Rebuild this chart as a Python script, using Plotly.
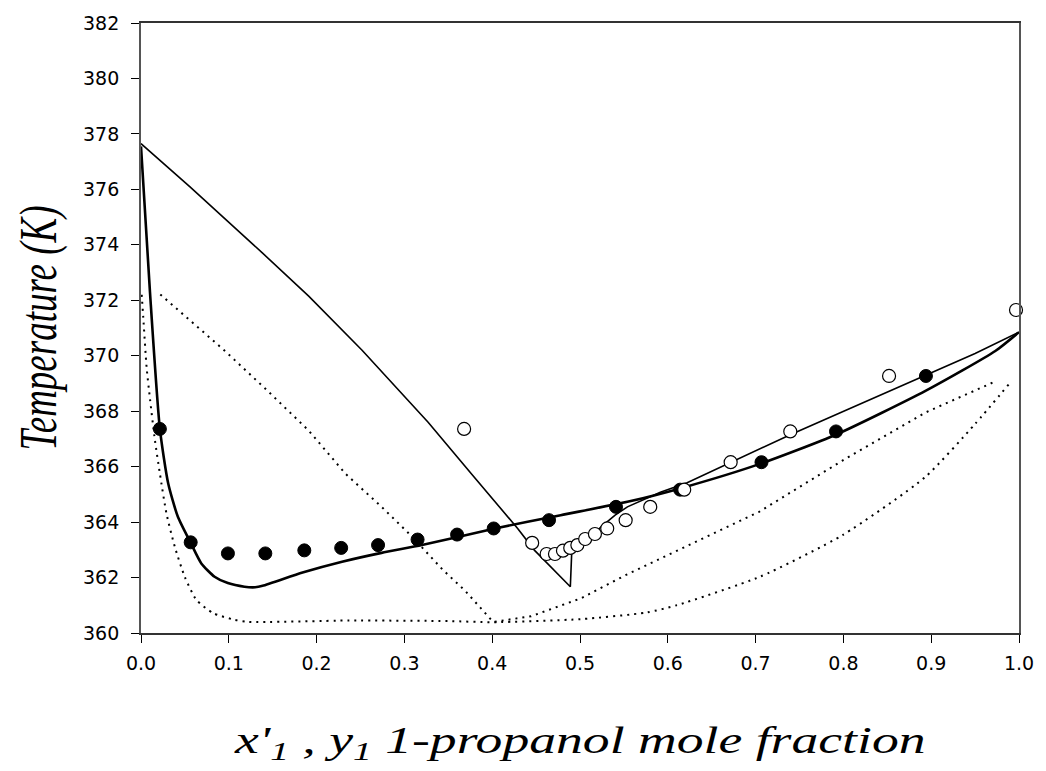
import plotly.graph_objects as go

# Experimental liquid-phase points (x'1, T)
liq_x = [0.0215, 0.0566, 0.099, 0.1416, 0.186, 0.228, 0.270, 0.315, 0.360,
         0.4017, 0.4647, 0.541, 0.614, 0.7067, 0.7916, 0.894]
liq_T = [367.36, 363.27, 362.87, 362.87, 362.98, 363.07, 363.17, 363.37, 363.55,
         363.77, 364.07, 364.55, 365.17, 366.16, 367.27, 369.27]

# Experimental vapour-phase points (y1, T)
vap_x = [0.368, 0.4455, 0.462, 0.4715, 0.4806, 0.4889, 0.497, 0.5059, 0.517,
         0.531, 0.552, 0.580, 0.6187, 0.6716, 0.7395, 0.852, 0.9966]
vap_T = [367.36, 363.25, 362.85, 362.85, 362.97, 363.07, 363.17, 363.39, 363.57,
         363.77, 364.07, 364.55, 365.17, 366.16, 367.27, 369.27, 371.65]

# Correlated liquid curve (thick)
fit_liq_x = [0.000, 0.0102, 0.0215, 0.031, 0.042, 0.0566, 0.0687, 0.0838, 0.0989,
             0.1178, 0.130, 0.1385, 0.184, 0.229, 0.274, 0.320, 0.403, 0.478,
             0.554, 0.619, 0.705, 0.792, 0.894, 0.973, 1.000]
fit_liq_T = [377.55, 372.30, 367.36, 365.39, 364.19, 363.25, 362.51, 362.03, 361.80,
             361.67, 361.65, 361.70, 362.18, 362.57, 362.89, 363.17, 363.77, 364.25,
             364.73, 365.26, 366.10, 367.16, 368.74, 370.17, 370.85]

# Correlated vapour curve (thin)
fit_vap_x = [0.000, 0.0555, 0.1385, 0.191, 0.2518, 0.2895, 0.327, 0.376, 0.429,
             0.448, 0.489, 0.4905, 0.500, 0.512, 0.524, 0.540, 0.554, 0.5915,
             0.622, 0.6716, 0.7395, 0.799, 0.894, 0.950, 1.000]
fit_vap_T = [377.65, 376.10, 373.70, 372.15, 370.20, 368.90, 367.60, 365.75, 363.77,
             362.99, 361.67, 362.85, 363.12, 363.45, 363.83, 364.25, 364.55, 365.08,
             365.42, 366.14, 367.15, 367.98, 369.30, 370.08, 370.85]

# Predicted vapour curve (dotted)
pred_vap_x = [0.022, 0.0547, 0.095, 0.142, 0.191, 0.233, 0.274, 0.308, 0.344,
              0.369, 0.390, 0.401, 0.444, 0.501, 0.554, 0.612, 0.704, 0.799,
              0.894, 0.970]
pred_vap_T = [372.21, 371.29, 370.19, 368.80, 367.30, 365.74, 364.55, 363.50, 362.27,
              361.53, 360.81, 360.40, 360.60, 361.25, 362.12, 362.99, 364.37, 366.22,
              367.96, 369.03]

# Predicted liquid curve (dotted)
pred_liq_x = [0.0008, 0.0026, 0.0064, 0.0102, 0.0159, 0.0215, 0.029, 0.0385, 0.0498,
              0.063, 0.082, 0.106, 0.123, 0.237, 0.350, 0.401, 0.5006, 0.576,
              0.610, 0.705, 0.799, 0.893, 0.950, 0.990]
pred_liq_T = [372.20, 371.37, 369.57, 368.45, 366.94, 365.75, 364.31, 363.11, 362.03,
              361.20, 360.72, 360.48, 360.40, 360.45, 360.43, 360.39, 360.50, 360.74,
              361.00, 362.03, 363.53, 365.62, 367.54, 369.03]

x_ticks = [0.0, 0.1, 0.2, 0.3, 0.4, 0.5, 0.6, 0.7, 0.8, 0.9, 1.0]
y_ticks = [360, 362, 364, 366, 368, 370, 372, 374, 376, 378, 380, 382]

fig = go.Figure()

dot = "2px,5px"
fig.add_trace(go.Scatter(x=pred_liq_x, y=pred_liq_T, mode="lines",
                         line=dict(color="black", width=2, dash=dot,
                                   shape="spline", smoothing=0.6),
                         showlegend=False, hoverinfo="skip"))
fig.add_trace(go.Scatter(x=pred_vap_x, y=pred_vap_T, mode="lines",
                         line=dict(color="black", width=2, dash=dot),
                         showlegend=False, hoverinfo="skip"))
fig.add_trace(go.Scatter(x=fit_vap_x, y=fit_vap_T, mode="lines",
                         line=dict(color="black", width=1.6),
                         showlegend=False))
fig.add_trace(go.Scatter(x=fit_liq_x, y=fit_liq_T, mode="lines",
                         line=dict(color="black", width=2.6,
                                   shape="spline", smoothing=0.6),
                         showlegend=False))
fig.add_trace(go.Scatter(x=liq_x, y=liq_T, mode="markers",
                         marker=dict(symbol="circle", size=13, color="black",
                                     line=dict(color="black", width=1)),
                         showlegend=False))
fig.add_trace(go.Scatter(x=vap_x, y=vap_T, mode="markers", cliponaxis=False,
                         marker=dict(symbol="circle", size=13, color="white",
                                     line=dict(color="black", width=1.2)),
                         showlegend=False))

tick_font = dict(family="DejaVu Sans, Arial, sans-serif", size=19, color="black")
title_font = dict(family="Liberation Serif, Times New Roman, serif", size=37,
                  color="black", style="italic")

fig.update_layout(
    width=1046, height=771,
    margin=dict(l=141, r=21, t=20, b=138),
    paper_bgcolor="white", plot_bgcolor="white",
    xaxis=dict(range=[0, 1], tickvals=x_ticks,
               ticktext=[f"{v:.1f}" for v in x_ticks],
               ticks="outside", ticklen=8, tickwidth=1.3, tickcolor="black",
               showline=True, linecolor="#333", linewidth=1.8, mirror=True,
               showgrid=False, zeroline=False, tickfont=tick_font,
               ticklabelstandoff=4,
               title=dict(text="x'<sub>1</sub> , y<sub>1</sub> 1-propanol mole fraction",
                          font=title_font, standoff=54)),
    yaxis=dict(range=[360, 382], tickvals=y_ticks,
               ticks="outside", ticklen=8, tickwidth=1.3, tickcolor="black",
               showline=True, linecolor="#555", linewidth=1.8, mirror=True,
               showgrid=False, zeroline=False, tickfont=tick_font,
               ticklabelstandoff=8,
               title=dict(text="Temperature (K)", font=title_font, standoff=20)),
)

# Widen the axis titles horizontally about their own centres
stretch_js = """
var gd = document.getElementById('{plot_id}');
function widenTitles() {
  var s = 1.45;
  gd.querySelectorAll('text.xtitle, text.ytitle').forEach(function (t) {
    var cur = t.getAttribute('transform') || '';
    if (t.__applied !== undefined && cur === t.__applied) { return; }
    var svg = t.ownerSVGElement;
    var r = t.getBoundingClientRect();
    var sr = svg.getBoundingClientRect();
    var cx = r.left + r.width / 2 - sr.left;
    var tr = 'translate(' + cx + ',0) scale(' + s + ',1) translate(' + (-cx) + ',0) ' + cur;
    t.setAttribute('transform', tr);
    t.__applied = t.getAttribute('transform');
  });
}
widenTitles();
if (gd.on) { gd.on('plotly_afterplot', widenTitles); }
"""

fig.write_html("out.html", post_script=stretch_js)
